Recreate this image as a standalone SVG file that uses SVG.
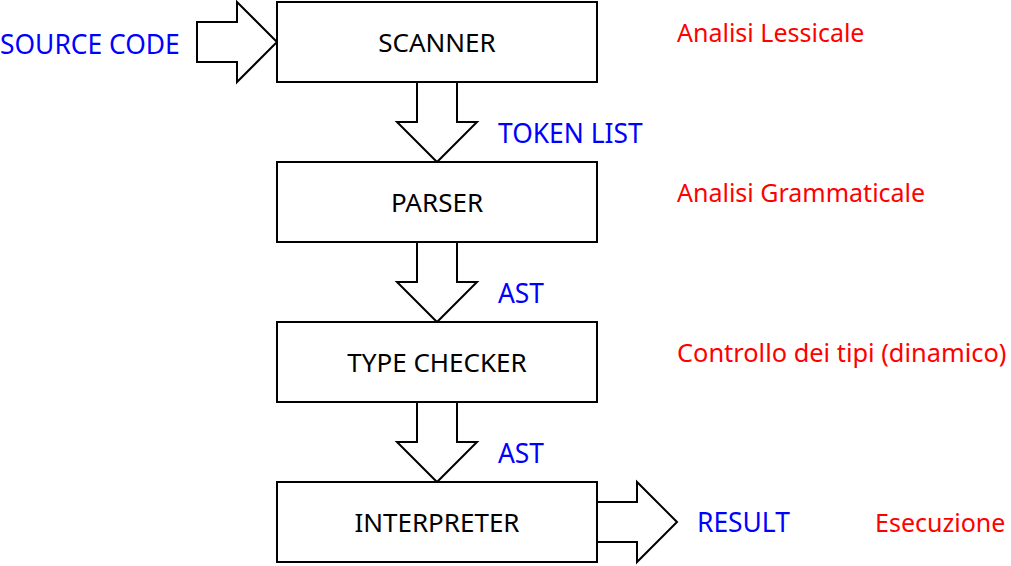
<svg xmlns="http://www.w3.org/2000/svg" width="1011" height="566" viewBox="0 0 1011 566">
<style>
.box{fill:#fff;stroke:#000;stroke-width:2}
.arr{fill:#fff;stroke:#000;stroke-width:2;stroke-linejoin:miter}
text{font-family:"Noto Sans","DejaVu Sans",sans-serif;font-size:25px}
.n{fill:#000;text-anchor:middle;font-size:26px}
.b{fill:#0000ff;font-size:26.4px}
.r{fill:#ff0000}
</style>
<rect width="1011" height="566" fill="#fff"/>
<g id="connectors">
<polygon class="arr" points="197,22 237,22 237,2 277,42 237,82 237,62 197,62"/>
<polygon class="arr" points="417,82 457,82 457,122 477,122 437,162 397,122 417,122"/>
<polygon class="arr" points="417,242 457,242 457,282 477,282 437,322 397,282 417,282"/>
<polygon class="arr" points="417,402 457,402 457,442 477,442 437,482 397,442 417,442"/>
<polygon class="arr" points="597,502 637,502 637,482 677,522 637,562 637,542 597,542"/>
</g>
<g id="scanner"><rect class="box" x="277" y="2" width="320" height="80"/><text class="n" x="437" y="52">SCANNER</text></g>
<g id="parser"><rect class="box" x="277" y="162" width="320" height="80"/><text class="n" x="437" y="212">PARSER</text></g>
<g id="typechecker"><rect class="box" x="277" y="322" width="320" height="80"/><text class="n" x="437" y="372">TYPE CHECKER</text></g>
<g id="interpreter"><rect class="box" x="277" y="482" width="320" height="80"/><text class="n" x="437" y="532">INTERPRETER</text></g>
<g id="labels">
<text class="b" x="0" y="54">SOURCE CODE</text>
<text class="b" x="498" y="143">TOKEN LIST</text>
<text class="b" x="498" y="303">AST</text>
<text class="b" x="498" y="463">AST</text>
<text class="b" x="697" y="532">RESULT</text>
<text class="r" x="677" y="42">Analisi Lessicale</text>
<text class="r" x="677" y="202">Analisi Grammaticale</text>
<text class="r" x="677" y="362" style="font-size:25.4px">Controllo dei tipi (dinamico)</text>
<text class="r" x="875" y="532">Esecuzione</text>
</g>
</svg>
